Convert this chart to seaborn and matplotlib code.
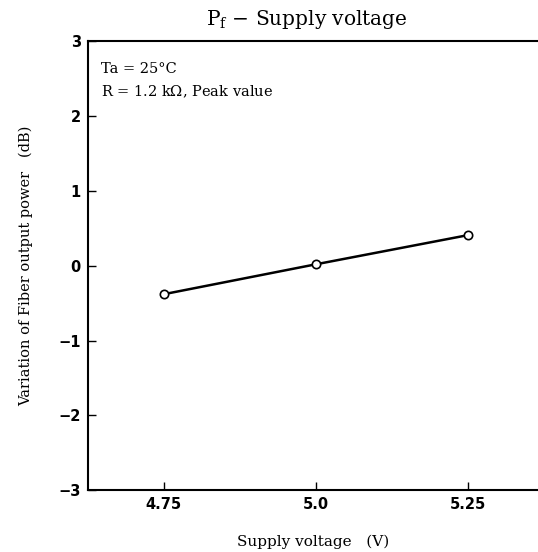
import matplotlib
matplotlib.use("Agg")
import matplotlib.pyplot as plt
import seaborn as sns
import pandas as pd

# values
supply_voltage = [4.75, 5.0, 5.25]
power_variation = [-0.38, 0.02, 0.41]
x_ticks = [4.75, 5.0, 5.25]
x_tick_labels = ["4.75", "5.0", "5.25"]
y_ticks = [-3, -2, -1, 0, 1, 2, 3]

sns.set_theme(style="white")
plt.rcParams["font.family"] = ["DejaVu Serif"]
plt.rcParams["mathtext.fontset"] = "dejavuserif"
plt.rcParams["text.color"] = "black"
plt.rcParams["axes.labelcolor"] = "black"

df = pd.DataFrame({"V": supply_voltage, "P": power_variation})

fig = plt.figure(figsize=(5.38, 5.52), dpi=100)
ax = fig.add_axes([0.163, 0.112, 0.837, 0.813])

sns.lineplot(data=df, x="V", y="P", ax=ax, color="black", linewidth=1.8,
             marker="o", markersize=6, markerfacecolor="white",
             markeredgecolor="black", markeredgewidth=1.2)

ax.set_xlim(4.625, 5.365)
ax.set_ylim(-3, 3)
ax.set_xticks(x_ticks)
ax.set_xticklabels(x_tick_labels)
ax.set_yticks(y_ticks)
ax.tick_params(direction="in", length=6, width=1, colors="black", pad=5,
               bottom=True, left=True)
for lab in ax.get_xticklabels() + ax.get_yticklabels():
    lab.set_family("DejaVu Sans")
    lab.set_fontweight("semibold")
    lab.set_fontsize(10.5)

for side in ["left", "top", "bottom"]:
    ax.spines[side].set_color("black")
    ax.spines[side].set_linewidth(1.5)
ax.spines["right"].set_visible(False)

ax.set_xlabel("Supply voltage   (V)", fontsize=11, labelpad=16)
ax.set_ylabel("Variation of Fiber output power   (dB)", fontsize=10.5, labelpad=18)
fig.text(0.57, 0.955, r"P$_{\mathrm{f}}$ $-$ Supply voltage", fontsize=14.5, ha="center")

ax.text(0.03, 0.955, "Ta = 25°C", transform=ax.transAxes, fontsize=10.5, va="top")
ax.text(0.03, 0.905, "R = 1.2 k$\\Omega$, Peak value", transform=ax.transAxes,
        fontsize=10.5, va="top")

fig.savefig("out.png", dpi=100)
